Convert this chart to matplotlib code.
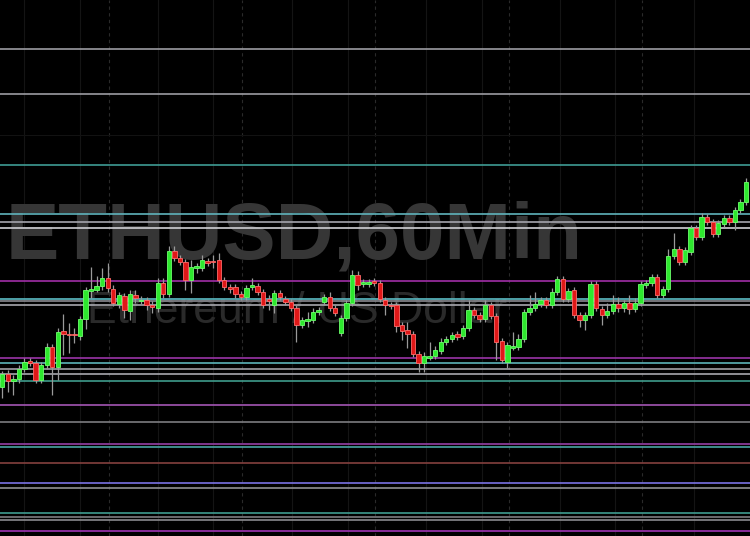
import matplotlib
matplotlib.use("Agg")
import matplotlib.pyplot as plt
import numpy as np

# ---- data (price units) ----
opens = [149,162,155,157,167,175,173,156,171,189,169,205,202,202,200,217,245,246,250,258,
         247,232,240,225,241,235,236,231,228,253,242,285,278,274,256,268,268,275,275,276,
         256,249,249,242,239,249,250,244,237,231,243,237,234,228,211,215,216,224,234,239,
         228,203,218,233,261,252,252,255,253,236,231,231,211,206,202,182,173,178,180,185,
         194,197,202,200,208,226,221,217,231,220,195,174,188,189,197,224,228,232,236,231,
         244,257,237,246,221,216,221,252,227,221,225,232,228,233,227,233,251,253,259,241,
         247,280,287,274,284,308,299,319,314,302,312,318,314,326,334]
highs = [165,166,161,171,178,178,176,174,193,192,208,222,213,208,220,249,269,260,268,273,
         251,244,243,246,246,240,239,235,258,258,290,290,281,277,276,273,281,278,281,283,
         259,252,252,245,251,258,253,247,241,246,246,240,237,231,219,224,228,229,242,244,
         231,221,236,266,265,257,257,258,256,239,234,234,214,214,205,185,184,194,190,198,
         200,204,205,211,236,229,224,236,234,223,198,194,204,202,227,241,244,239,239,248,
         260,260,248,249,224,224,255,255,230,233,241,239,236,241,238,255,256,262,262,250,
         287,303,290,289,311,311,323,322,317,316,321,321,329,337,358]
lows = [138,144,141,153,164,170,153,153,167,141,156,181,183,193,196,207,238,244,246,244,
        230,228,218,216,233,232,226,223,224,238,239,275,271,246,243,263,265,270,268,253,
        246,243,238,236,236,246,241,228,226,223,236,231,225,194,208,209,213,221,231,225,
        220,200,215,230,246,249,249,250,234,221,227,204,196,188,179,164,164,176,177,182,
        191,194,196,197,205,218,214,214,217,176,173,168,186,186,194,221,225,229,228,228,
        241,234,234,218,209,206,218,225,211,218,222,224,224,222,224,230,248,250,238,238,
        244,277,271,271,281,296,296,311,299,299,309,311,306,323,331]
closes = [162,155,157,167,174,173,156,171,189,169,204,202,201,201,217,246,247,250,258,248,
          233,241,226,242,238,236,231,229,253,242,285,278,274,256,269,270,276,273,274,256,
          249,247,242,239,248,251,244,231,235,243,239,234,228,211,216,217,224,226,239,228,
          223,218,233,261,251,254,254,253,237,231,230,210,205,202,182,173,180,180,186,194,
          197,201,199,208,226,221,217,231,220,194,176,191,190,197,224,228,232,236,231,244,
          257,237,245,221,216,221,252,228,221,225,232,228,233,227,233,252,253,259,241,247,
          280,287,274,286,308,299,319,314,302,313,318,314,326,334,354]

# horizontal levels
level_prices = [487.3, 442.3, 371.0, 321.7, 313.7, 307.7, 255.5, 237.5, 235.0, 230.7,
                178.3, 172.7, 166.7, 161.7, 155.5, 131.0, 114.0, 92.3, 89.3, 73.0,
                53.0, 48.0, 23.0, 19.0, 16.0, 5.0]
level_colors = ['#9c9ca2', '#9c9ca2', '#3f9c94', '#5fb4bc', '#a4a4ac', '#cfcfd4',
                '#a02ea6', '#5cbcc4', '#8a8a90', '#a8a8ae',
                '#9a34a8', '#5cb4b8', '#a0a0a6', '#a8a8ae', '#3f9c8c',
                '#a456b4', '#7c7c80', '#9440a4', '#4aa4a4', '#84403e',
                '#7a72e4', '#909094', '#3f9c90', '#7c7c80', '#8a8a8e', '#a034b4']

major_grid = [19.2, 43.1, 67.2, 91.3, 115.3]
minor_grid = [3.9, 14.0, 28.0, 38.0, 52.2, 62.3, 76.3, 86.4, 100.5, 110.4, 124.6]

title_text = "ETHUSD,60Min"
subtitle_text = "Ethereum / US Dollar"

# ---- figure ----
fig = plt.figure(figsize=(7.5, 5.36), dpi=100, facecolor='black')
ax = fig.add_axes([0, 0, 1, 1])
ax.set_facecolor('black')

n = len(opens)
x = np.arange(n)

# grid
for g in minor_grid:
    ax.axvline(g, color='#141414', lw=0.8, zorder=0)
for g in major_grid:
    ax.axvline(g, color='#2a2a2a', lw=0.8, ls=(0, (3, 3)), zorder=0)
ax.axhline(401, color='#121212', lw=0.8, zorder=0)

# watermark
ax.text(0.392, 0.556, title_text, transform=ax.transAxes, ha='center', va='center',
        fontsize=57.5, fontweight='bold', family='Liberation Sans', color='#363636', zorder=1)
ax.text(0.396, 0.418, subtitle_text, transform=ax.transAxes, ha='center', va='center',
        fontsize=32, family='Liberation Sans', color='#2a2a2a', zorder=1)

# horizontal levels
for p, col in zip(level_prices, level_colors):
    ax.axhline(p, color=col, lw=1.2, zorder=2)

# candles
o = np.array(opens, float); h = np.array(highs, float)
l = np.array(lows, float); c = np.array(closes, float)
up = c >= o
ax.vlines(x, l, h, color='#9a9a9a', lw=0.9, zorder=3)
bottoms = np.minimum(o, c)
heights = np.abs(c - o)
ax.bar(x[up], heights[up], bottom=bottoms[up], width=0.78,
       color='#2ee82e', edgecolor='#6cff6c', lw=0.6, zorder=4)
ax.bar(x[~up], heights[~up], bottom=bottoms[~up], width=0.78,
       color='#e01818', edgecolor='#ff6a6a', lw=0.6, zorder=4)

ax.set_xlim(-0.414, 134.72)
ax.set_ylim(0, 536)
ax.axis('off')

fig.savefig('out.png', dpi=100, facecolor='black')
